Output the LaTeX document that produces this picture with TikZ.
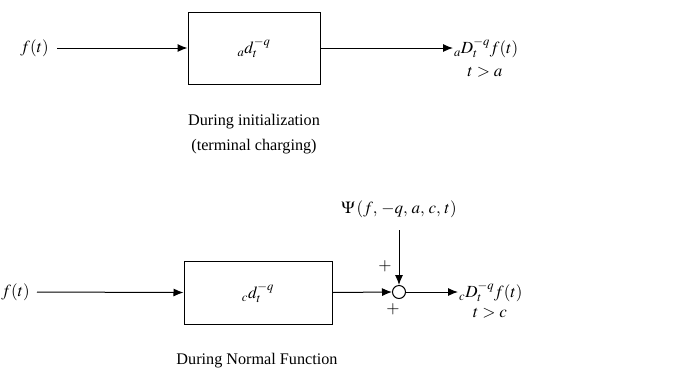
\documentclass[tikz,border=0pt]{standalone}
\usepackage{mathptmx}
\usepackage{fontspec}
\setmainfont{Liberation Serif}
\usetikzlibrary{arrows.meta}
\begin{document}
\begin{tikzpicture}[x=1pt,y=-1pt,
  every node/.style={font=\fontsize{16.2}{24.5}\selectfont},
  mth/.style={font=\fontsize{17}{20}\selectfont},
  blk/.style={draw,line width=1pt,inner sep=0pt},
  con/.style={line width=1pt,-{Latex[length=10pt,width=8pt]}},
  sumc/.style={draw,circle,line width=1pt,minimum size=13pt,inner sep=0pt}]
\useasboundingbox (0,0) rectangle (678,368);
% top
\node[mth,anchor=east,inner sep=1pt] (f1) at (50,48) {$f(t)$};
\node[mth,blk,minimum width=132pt,minimum height=72pt] (b1) at (254,48) {${}_{a}d_{t}^{-q}$};
\node[mth,anchor=west,inner sep=1pt] (o1) at (453,48) {${}_{a}D_{t}^{-q}f(t)$};
\node[mth] (c1) at (485,72) {$t>a$};
\draw[con,shorten <=7pt] (f1.east) -- (b1.west);
\draw[con] (b1.east) -- (o1.west);
\node[align=center] (l1) at (254,134) {During initialization\\(terminal charging)};
% bottom
\node[mth,anchor=east,inner sep=1pt] (f2) at (31,292) {$f(t)$};
\node[mth,blk,minimum width=148pt,minimum height=63pt] (b2) at (258,292.5) {${}_{c}d_{t}^{-q}$};
\node[sumc] (s) at (399,292) {};
\node[mth,anchor=west,inner sep=1pt] (o2) at (458,292) {${}_{c}D_{t}^{-q}f(t)$};
\node[mth] (c2) at (490,313) {$t>c$};
\node[mth] (psi) at (399,209) {$\Psi\,(f,\,-q,\,a,\,c,\,t)$};
\node[mth] (p1) at (385,266) {$+$};
\node[mth] (p2) at (393,309) {$+$};
\draw[con,shorten <=6pt] (f2.east) -- (b2.west);
\draw[con] (b2.east) -- (s.west);
\draw[con] (s.east) -- (o2.west);
\draw[con,shorten <=9pt] (psi.south) -- (s.north);
\node (l2) at (257,361) {During Normal Function};
\end{tikzpicture}
\end{document}
